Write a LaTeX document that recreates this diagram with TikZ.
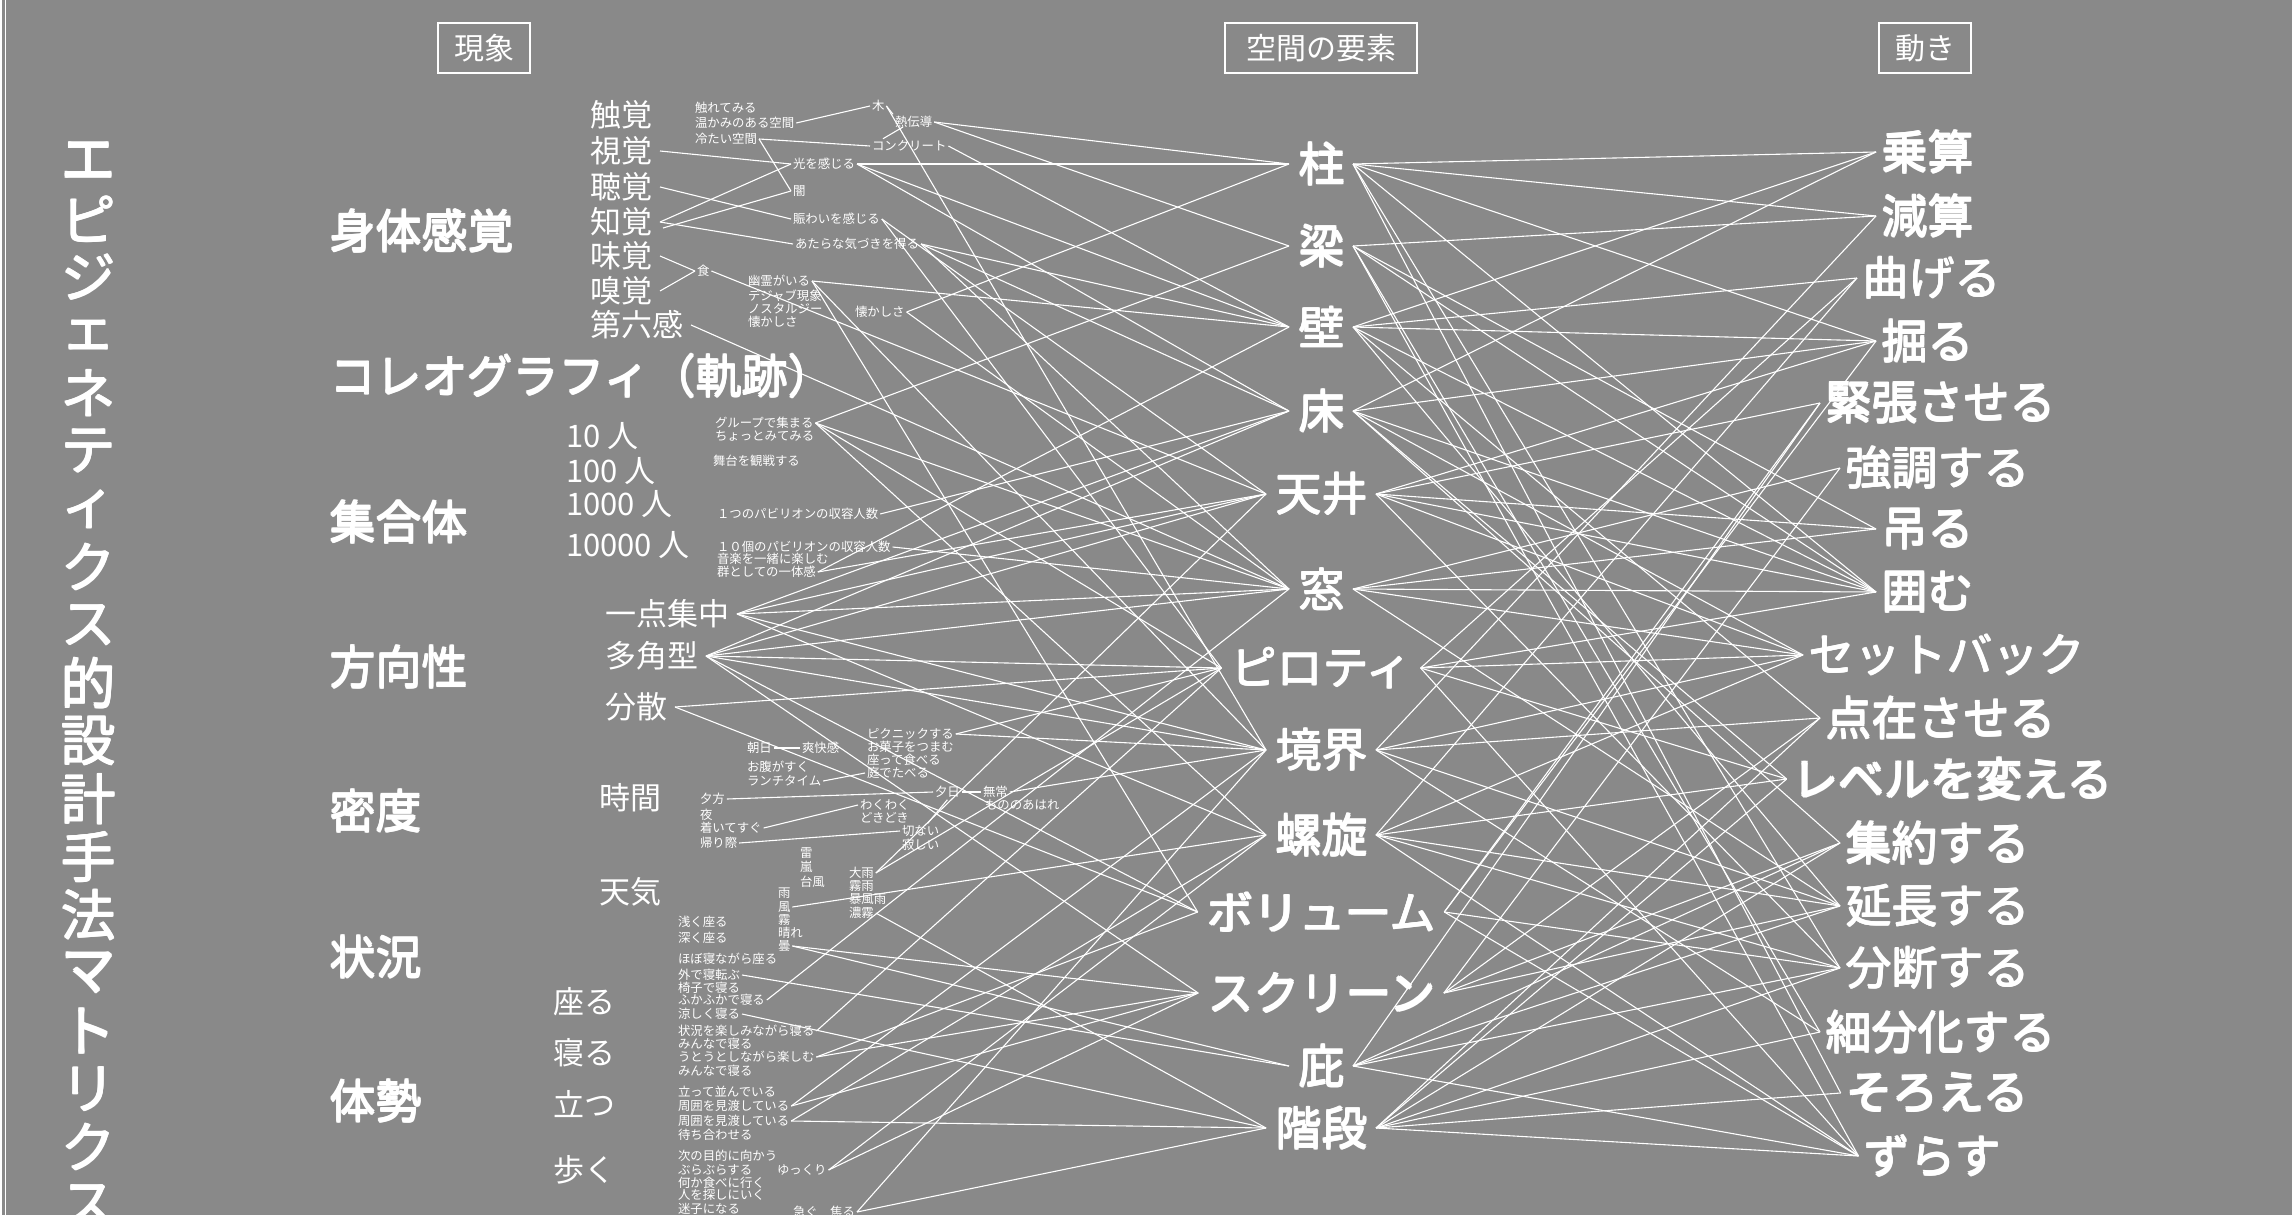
\documentclass[tikz,border=0pt]{standalone}
\usepackage{fontspec}
\setmainfont{Noto Sans CJK JP}
\usetikzlibrary{calc}
\definecolor{bg}{HTML}{898989}
\newcommand\fat[1]{\leavevmode\rlap{\kern1.3pt#1}\rlap{\raisebox{1.3pt}{#1}}\rlap{\kern1.3pt\raisebox{1.3pt}{#1}}\rlap{\kern0.65pt\raisebox{0.65pt}{#1}}#1}
\tikzset{
  ln/.style={draw=white, line width=1.1pt},
  ttl/.style={text=white, font=\fontsize{55}{55}\selectfont, inner sep=0pt},
  cat/.style={text=white, font=\fontsize{46}{46}\selectfont, anchor=west, inner sep=0pt},
  sub/.style={text=white, font=\fontsize{31}{31}\selectfont, anchor=west, inner sep=0pt, outer sep=8pt},
  sm/.style={text=white, font=\fontsize{12.4}{12.4}\selectfont, anchor=west, inner sep=0pt, outer sep=2pt},
  mid/.style={text=white, font=\fontsize{46}{46}\selectfont, inner sep=0pt, outer xsep=9pt, outer ysep=0pt},
  rgt/.style={text=white, font=\fontsize{46}{46}\selectfont, inner sep=0pt, outer xsep=5pt, outer ysep=0pt},
  hdr/.style={text=white, draw=white, line width=1.4pt, font=\fontsize{30}{30}\selectfont, inner xsep=16pt, minimum height=50pt},
}
\begin{document}
\begin{tikzpicture}[x=1pt,y=-1pt]
\useasboundingbox (0,0) rectangle (2292,1215);
\clip (0,0) rectangle (2292,1215);
\fill[bg] (0,0) rectangle (2292,1215);
\draw[white, line width=1.6pt] (1,0) -- (1,1215);
\draw[white, line width=1.6pt] (5.5,0) -- (5.5,1215);

% headers
\node[hdr] (h1) at (484,48) {現象};
\node[hdr, inner xsep=21pt] (h2) at (1321,48) {空間の要素};
\node[hdr] (h3) at (1925,48) {動き};

% vertical title
\foreach \c [count=\i] in {エ,ピ,ジ,ェ,ネ,テ,ィ,ク,ス,的,設,計,手,法,マ,ト,リ,ク,ス}
  \node[ttl] (t\i) at (88,{161+58*(\i-1)}) {\fat{\c}};

% categories
\node[cat] (c1) at (329,231) {\fat{身体感覚}};
\node[cat] (c2) at (329,376) {\fat{コレオグラフィ（軌跡）}};
\node[cat] (c3) at (329,522) {\fat{集合体}};
\node[cat] (c4) at (329,667) {\fat{方向性}};
\node[cat] (c5) at (329,811) {\fat{密度}};
\node[cat] (c6) at (329,957) {\fat{状況}};
\node[cat] (c7) at (329,1101) {\fat{体勢}};

% sub items
\node[sub] (s11) at (582,115) {触覚};
\node[sub] (s12) at (582,151) {視覚};
\node[sub] (s13) at (582,187) {聴覚};
\node[sub] (s14) at (582,222) {知覚};
\node[sub] (s15) at (582,256) {味覚};
\node[sub] (s16) at (582,291) {嗅覚};
\node[sub] (s17) at (582,325) {第六感};
\node[sub] (s31) at (558,436) {10 人};
\node[sub] (s32) at (558,471) {100 人};
\node[sub] (s33) at (558,504) {1000 人};
\node[sub] (s34) at (558,545) {10000 人};
\node[sub] (s41) at (597,614) {一点集中};
\node[sub] (s42) at (597,656) {多角型};
\node[sub] (s43) at (597,707) {分散};
\node[sub] (s51) at (591,798) {時間};
\node[sub] (s52) at (591,892) {天気};
\node[sub] (s71) at (545,1002) {座る};
\node[sub] (s72) at (545,1053) {寝る};
\node[sub] (s73) at (545,1104) {立つ};
\node[sub] (s74) at (545,1170) {歩く};

% small texts: senses
\node[sm] (a1) at (693,108) {触れてみる};
\node[sm] (a2) at (693,123) {温かみのある空間};
\node[sm] (a3) at (693,139) {冷たい空間};
\node[sm] (a4) at (870,106) {木};
\node[sm] (a5) at (893,122) {熱伝導};
\node[sm] (a6) at (870,146) {コンクリート};
\node[sm] (a7) at (791,164) {光を感じる};
\node[sm] (a8) at (791,191) {闇};
\node[sm] (a9) at (791,219) {賑わいを感じる};
\node[sm] (a10) at (793,244) {あたらな気づきを得る};
\node[sm] (a11) at (695,271) {食};
\node[sm] (a12) at (746,281) {幽霊がいる};
\node[sm] (a13) at (746,296) {デジャブ現象};
\node[sm] (a14) at (746,309) {ノスタルジー};
\node[sm] (a15) at (746,322) {懐かしさ};
\node[sm] (a16) at (853,312) {懐かしさ};

% collective
\node[sm] (b1) at (713,423) {グループで集まる};
\node[sm] (b2) at (713,436) {ちょっとみてみる};
\node[sm] (b3) at (711,461) {舞台を観戦する};
\node[sm] (b4) at (715,514) {１つのパビリオンの収容人数};
\node[sm] (b5) at (715,547) {１０個のパビリオンの収容人数};
\node[sm] (b6) at (715,559) {音楽を一緒に楽しむ};
\node[sm] (b7) at (715,572) {群としての一体感};

% density
\node[sm] (d1) at (745,748) {朝日};
\node[sm] (d2) at (800,748) {爽快感};
\node[sm] (d3) at (745,767) {お腹がすく};
\node[sm] (d4) at (745,781) {ランチタイム};
\node[sm] (d5) at (698,799) {夕方};
\node[sm] (d6) at (698,815) {夜};
\node[sm] (d7) at (698,828) {着いてすぐ};
\node[sm] (d8) at (698,843) {帰り際};
\node[sm] (d9) at (865,734) {ピクニックする};
\node[sm] (d10) at (865,747) {お菓子をつまむ};
\node[sm] (d11) at (865,760) {座って食べる};
\node[sm] (d12) at (865,773) {庭でたべる};
\node[sm] (d13) at (933,792) {夕日};
\node[sm] (d14) at (981,792) {無常};
\node[sm] (d15) at (983,805) {もののあはれ};
\node[sm] (d16) at (858,805) {わくわく};
\node[sm] (d17) at (858,818) {どきどき};
\node[sm] (d18) at (900,831) {切ない};
\node[sm] (d19) at (900,845) {寂しい};

% weather
\node[sm] (w1) at (798,853) {雷};
\node[sm] (w2) at (798,867) {嵐};
\node[sm] (w3) at (798,882) {台風};
\node[sm] (w4) at (847,873) {大雨};
\node[sm] (w5) at (847,886) {霧雨};
\node[sm] (w6) at (847,899) {暴風雨};
\node[sm] (w7) at (847,913) {濃霧};
\node[sm] (w8) at (776,893) {雨};
\node[sm] (w9) at (776,907) {風};
\node[sm] (w10) at (776,920) {霧};
\node[sm] (w11) at (776,933) {晴れ};
\node[sm] (w12) at (776,946) {曇};

% posture
\node[sm] (p1) at (676,922) {浅く座る};
\node[sm] (p2) at (676,938) {深く座る};
\node[sm] (p3) at (676,959) {ほぼ寝ながら座る};
\node[sm] (p4) at (676,975) {外で寝転ぶ};
\node[sm] (p5) at (676,988) {椅子で寝る};
\node[sm] (p6) at (676,1000) {ふかふかで寝る};
\node[sm] (p7) at (676,1014) {涼しく寝る};
\node[sm] (p8) at (676,1031) {状況を楽しみながら寝る};
\node[sm] (p9) at (676,1044) {みんなで寝る};
\node[sm] (p10) at (676,1057) {うとうとしながら楽しむ};
\node[sm] (p11) at (676,1071) {みんなで寝る};
\node[sm] (p12) at (676,1092) {立って並んでいる};
\node[sm] (p13) at (676,1106) {周囲を見渡している};
\node[sm] (p14) at (676,1121) {周囲を見渡している};
\node[sm] (p15) at (676,1135) {待ち合わせる};
\node[sm] (p16) at (676,1156) {次の目的に向かう};
\node[sm] (p17) at (676,1170) {ぶらぶらする};
\node[sm] (p18) at (775,1170) {ゆっくり};
\node[sm] (p19) at (676,1183) {何か食べに行く};
\node[sm] (p20) at (676,1195) {人を探しにいく};
\node[sm] (p21) at (676,1209) {迷子になる};
\node[sm] (p22) at (791,1212) {急ぐ　焦る};

% middle column
\node[mid] (m1) at (1321,164) {\fat{柱}};
\node[mid] (m2) at (1321,246) {\fat{梁}};
\node[mid] (m3) at (1321,327) {\fat{壁}};
\node[mid] (m4) at (1321,411) {\fat{床}};
\node[mid] (m5) at (1321,494) {\fat{天井}};
\node[mid] (m6) at (1321,589) {\fat{窓}};
\node[mid] (m7) at (1321,668) {\fat{ピロティ}};
\node[mid] (m8) at (1321,750) {\fat{境界}};
\node[mid] (m9) at (1321,835) {\fat{螺旋}};
\node[mid] (m10) at (1321,912) {\fat{ボリューム}};
\node[mid] (m11) at (1321,993) {\fat{スクリーン}};
\node[mid] (m12) at (1321,1066) {\fat{庇}};
\node[mid] (m13) at (1321,1128) {\fat{階段}};

% right column
\node[rgt] (r1) at (1927,152) {\fat{乗算}};
\node[rgt] (r2) at (1927,216) {\fat{減算}};
\node[rgt] (r3) at (1931,278) {\fat{曲げる}};
\node[rgt] (r4) at (1927,341) {\fat{掘る}};
\node[rgt] (r5) at (1940,403) {\fat{緊張させる}};
\node[rgt] (r6) at (1937,468) {\fat{強調する}};
\node[rgt] (r7) at (1927,529) {\fat{吊る}};
\node[rgt] (r8) at (1927,592) {\fat{囲む}};
\node[rgt] (r9) at (1946,655) {\fat{セットバック}};
\node[rgt] (r10) at (1940,718) {\fat{点在させる}};
\node[rgt] (r11) at (1952,779) {\fat{レベルを変える}};
\node[rgt] (r12) at (1937,843) {\fat{集約する}};
\node[rgt] (r13) at (1937,906) {\fat{延長する}};
\node[rgt] (r14) at (1937,968) {\fat{分断する}};
\node[rgt] (r15) at (1940,1032) {\fat{細分化する}};
\node[rgt] (r16) at (1937,1093) {\fat{そろえる}};
\node[rgt] (r17) at (1932,1156) {\fat{ずらす}};

% local short connectors
\draw[ln] (a2.east) -- (a4.west);
\draw[ln] (a3.east) -- (a6.west);
\draw[ln] (a3.east) -- (a8.west);
\draw[ln] (a4.east) -- (a5.north west);
\draw[ln] ($(a5.west)+(10,5)$) -- ($(a6.north west)+(13,0)$);
\draw[ln] (s12.east) -- (a7.west);
\draw[ln] (s13.east) -- (a9.west);
\draw[ln] (s14.east) -- (a7.west);
\draw[ln] ($(s14.east)+(3,6)$) -- (a8.west);
\draw[ln] (s14.east) -- (a10.west);
\draw[ln] (s15.east) -- (a11.west);
\draw[ln] (s16.east) -- (a11.west);
\draw[ln] (d1.east) -- (d2.west);
\draw[ln] (d13.east) -- (d14.west);
\draw[ln] (d4.east) -- (d12.west);
\draw[ln] (d5.east) -- (d13.west);
\draw[ln] (d13.south) -- ($(d18.north)+(7,0)$);
\draw[ln] (d7.east) -- (d16.west);
\draw[ln] (d8.east) -- (d18.west);

% phenomena -> elements
\foreach \a/\b in {
  a4/m8, a5/m1, a5/m2, a6/m3, a7/m1, a7/m3, a7/m4, a9/m5, a9/m7,
  a10/m4, a10/m6, a10/m3, a11/m5, s17/m6, a12/m3, a12/m8, a12/m10,
  a16/m1, a16/m6,
  b1/m2, b1/m6, b1/m7, b1/m9, b4/m4, b5/m6, b7/m5, b7/m3,
  s41/m4, s41/m5, s41/m6, s41/m8, s41/m9,
  s42/m4, s42/m5, s42/m6, s42/m7, s42/m8, s42/m10, s42/m11,
  s43/m7, s43/m10,
  d9/m8, d9/m7, d14/m8,
  w4/m5, w4/m7, w7/m13, w9/m9, w12/m11, w12/m12,
  p4/m12, p6/m6, p7/m13, p8/m7, p10/m10, p10/m11,
  p13/m8, p13/m11, p14/m13, p14/m9, p18/m9, p18/m11, p22/m13, p22/m8}
  \draw[ln] (\a.east) -- (\b.west);

% elements -> actions
\foreach \a/\b in {
  m1/r1, m1/r2, m1/r4, m1/r14, m1/r16, m1/r8,
  m2/r2, m2/r7, m2/r8, m2/r15, m2/r17,
  m3/r1, m3/r3, m3/r4, m3/r8, m3/r13, m3/r10,
  m4/r1, m4/r4, m4/r8, m4/r11, m4/r12, m4/r9,
  m5/r5, m5/r4, m5/r8, m5/r7, m5/r9, m5/r14,
  m6/r6, m6/r7, m6/r9, m6/r13, m6/r8,
  m7/r9, m7/r8, m7/r3, m7/r11, m7/r17,
  m8/r10, m8/r9, m8/r13, m8/r2, m8/r15,
  m9/r11, m9/r9, m9/r3, m9/r14, m9/r13, m9/r17,
  m10/r5, m10/r4, m10/r14, m10/r17,
  m11/r12, m11/r6, m11/r13, m11/r10,
  m12/r13, m12/r14, m12/r17, m12/r5, m12/r12,
  m13/r16, m13/r17, m13/r15, m13/r14, m13/r12, m13/r10, m13/r11}
  \draw[ln] (\a.east) -- (\b.west);
\end{tikzpicture}
\end{document}
